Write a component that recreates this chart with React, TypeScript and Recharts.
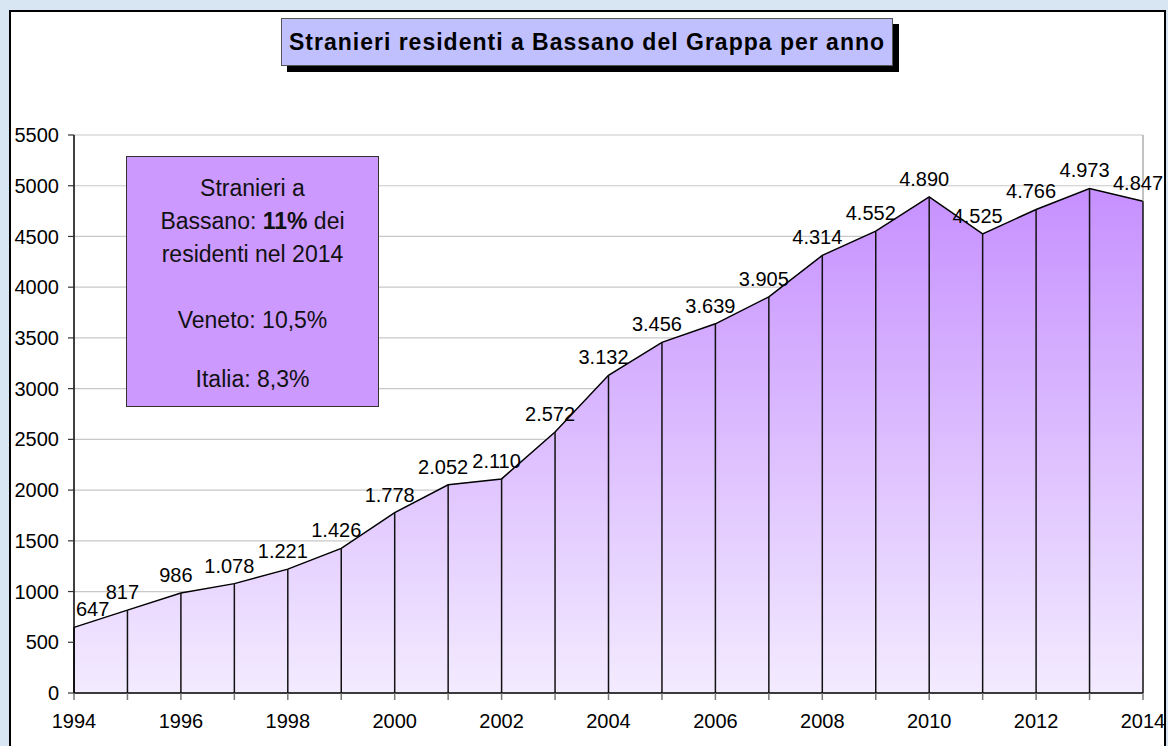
import {
  Area,
  CartesianGrid,
  ComposedChart,
  LabelList,
  ReferenceLine,
  XAxis,
  YAxis,
} from "recharts";

const years = [
  1994, 1995, 1996, 1997, 1998, 1999, 2000, 2001, 2002, 2003, 2004, 2005,
  2006, 2007, 2008, 2009, 2010, 2011, 2012, 2013, 2014,
];
const residents = [
  647, 817, 986, 1078, 1221, 1426, 1778, 2052, 2110, 2572, 3132, 3456, 3639,
  3905, 4314, 4552, 4890, 4525, 4766, 4973, 4847,
];
const yTicks = [0, 500, 1000, 1500, 2000, 2500, 3000, 3500, 4000, 4500, 5000, 5500];

const title = "Stranieri residenti a Bassano del Grappa per anno";

const data = years.map((year, i) => ({ year, value: residents[i] }));

const font = "'Liberation Sans', Arial, sans-serif";

function fmt(v: number) {
  return String(v).replace(/\B(?=(\d{3})+(?!\d))/g, ".");
}

function ValueLabel(props: any) {
  const { x, y, value, index } = props;
  const first = index === 0;
  return (
    <text
      x={first ? x + 2 : x - 5}
      y={y - 11}
      textAnchor={first ? "start" : "middle"}
      fontSize={20}
      fontFamily={font}
      fill="#000"
    >
      {fmt(value)}
    </text>
  );
}

export default function App() {
  const last = data[data.length - 1];
  return (
    <div
      style={{
        position: "absolute",
        left: 0,
        top: 0,
        width: 1168,
        height: 746,
        overflow: "hidden",
        background: "#d8e5f2",
        fontFamily: font,
      }}
    >
      <div
        style={{
          position: "absolute",
          left: 9,
          top: 10,
          width: 1153,
          height: 760,
          background: "#fff",
          border: "2px solid #000",
        }}
      />
      <div style={{ position: "absolute", left: 0, top: 0 }}>
        <ComposedChart
          width={1168}
          height={746}
          data={data}
          margin={{ top: 135, right: 25, bottom: 13, left: 10 }}
        >
          <defs>
            <linearGradient id="areaFill" x1="0" y1="0" x2="0" y2="1">
              <stop offset="0%" stopColor="#c690ff" />
              <stop offset="100%" stopColor="#f3ebff" />
            </linearGradient>
          </defs>
          <CartesianGrid vertical={false} stroke="#c8c8c8" strokeWidth={1.2} />
          <XAxis
            type="number"
            dataKey="year"
            domain={[1994, 2014]}
            ticks={years}
            interval={0}
            tickFormatter={(v: number) => (v % 2 === 0 ? String(v) : "")}
            height={40}
            tickSize={7}
            tickMargin={14}
            axisLine={{ stroke: "#000", strokeWidth: 1.5 }}
            tickLine={{ stroke: "#777", strokeWidth: 1.5 }}
            tick={{ fill: "#000", fontSize: 20, fontFamily: font }}
          />
          <YAxis
            type="number"
            domain={[0, 5500]}
            ticks={yTicks}
            interval={0}
            width={64}
            tickSize={6}
            tickMargin={9}
            axisLine={{ stroke: "#000", strokeWidth: 1.5 }}
            tickLine={{ stroke: "#333", strokeWidth: 1.2 }}
            tick={{ fill: "#000", fontSize: 20, fontFamily: font }}
          />
          <Area
            type="linear"
            dataKey="value"
            stroke="#000"
            strokeWidth={1.5}
            fill="url(#areaFill)"
            fillOpacity={1}
            isAnimationActive={false}
            dot={false}
            activeDot={false}
          >
            <LabelList dataKey="value" content={<ValueLabel />} />
          </Area>
          <ReferenceLine
            segment={[
              { x: last.year, y: last.value },
              { x: last.year, y: 5500 },
            ]}
            stroke="#999"
            strokeWidth={1.2}
          />
          {data.map((d) => (
            <ReferenceLine
              key={d.year}
              segment={[
                { x: d.year, y: 0 },
                { x: d.year, y: d.value },
              ]}
              stroke="#111"
              strokeWidth={1.5}
            />
          ))}
        </ComposedChart>
      </div>
      <div
        style={{
          position: "absolute",
          left: 287,
          top: 24,
          width: 612,
          height: 48,
          background: "#000",
        }}
      />
      <div
        style={{
          position: "absolute",
          left: 281,
          top: 18,
          width: 612,
          height: 48,
          boxSizing: "border-box",
          background: "#c0c0ff",
          border: "1px solid #555",
          display: "flex",
          alignItems: "center",
          justifyContent: "center",
          fontWeight: "bold",
          fontSize: 23,
          letterSpacing: 1,
          color: "#000",
          whiteSpace: "nowrap",
        }}
      >
        {title}
      </div>
      <div
        style={{
          position: "absolute",
          left: 126,
          top: 156,
          width: 253,
          height: 251,
          boxSizing: "border-box",
          background: "#cc99ff",
          border: "1px solid #333",
          textAlign: "center",
          fontSize: 23,
          lineHeight: "33px",
          color: "#111",
          paddingTop: 15,
        }}
      >
        <div>Stranieri a</div>
        <div>
          Bassano: <b>11%</b> dei
        </div>
        <div>residenti nel 2014</div>
        <div style={{ marginTop: 33 }}>Veneto: 10,5%</div>
        <div style={{ marginTop: 26 }}>Italia: 8,3%</div>
      </div>
    </div>
  );
}
